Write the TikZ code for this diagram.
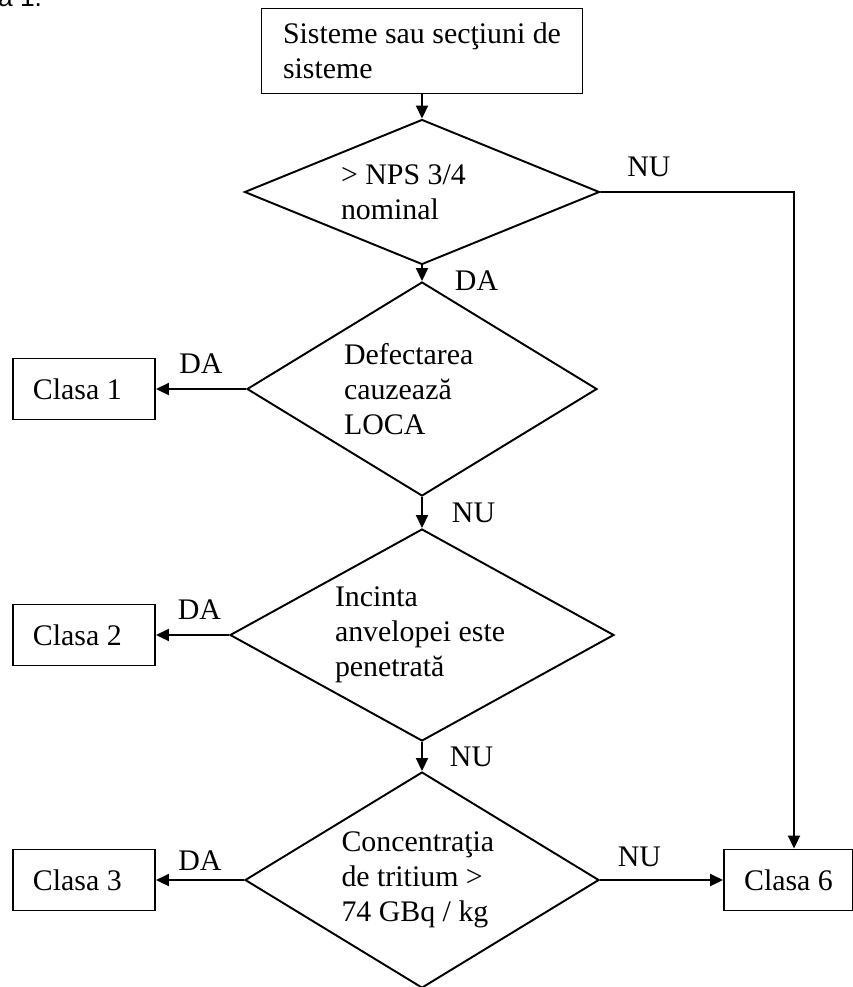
\documentclass[tikz,border=0pt]{standalone}
\usepackage{fontspec}
\setmainfont{Liberation Serif}
\newfontfamily\figfont{Liberation Sans}
\usetikzlibrary{arrows.meta, positioning, shapes.geometric}
\newcommand{\fsize}{\fontsize{17pt}{20pt}\selectfont}
\tikzset{
        >={Triangle[length=2.6mm, width=2.4mm]}, % filled arrow heads
        block/.style={draw, rectangle, align=flush left, minimum width=64.2mm, minimum height=17mm}, % start box
        decision/.style={draw, diamond, align=flush left, inner sep=0pt, aspect=1.7, text width=#1}, % questions
        clasa/.style={draw, rectangle, align=flush left, text width=20.4mm, inner xsep=4mm, inner ysep=0pt, minimum height=12.2mm}, % result boxes
        lbl/.style={inner sep=0pt}, % DA / NU
    }

\begin{document}
\begin{tikzpicture}[x=0.2mm, y=-0.2mm, line width=1.1pt, every node/.style={font=\fsize}]
    \useasboundingbox (0,0) rectangle (853,987);
    \node[anchor=base east, inner sep=0pt, font=\figfont\fontsize{15pt}{18pt}\selectfont] (fig) at (43,7) {a 1.};
    \node[block] (start) at (422,51) {Sisteme sau secţiuni de\\sisteme};
    \node[decision=32.4mm, aspect=2.2, minimum width=71mm, minimum height=29mm, below of=start, node distance=28.2mm] (nps) {> NPS 3/4\\nominal};
    \node[decision=31.2mm, minimum width=70mm, minimum height=42.8mm, below of=nps, node distance=39.4mm] (loca) {Defectarea\\cauzează\\LOCA};
    \node[decision=34.8mm, minimum width=76.8mm, minimum height=42.4mm, below of=loca, node distance=49.2mm] (incinta) {Incinta\\anvelopei este\\penetrată};
    \node[decision=32.2mm, minimum width=70.8mm, minimum height=43.2mm, below of=incinta, node distance=49mm] (tritium) {Concentraţia\\de tritium >\\74 GBq / kg};
    \node[clasa, left of=loca, node distance=67.6mm] (c1) {Clasa 1};
    \node[clasa, left of=incinta, node distance=67.6mm] (c2) {Clasa 2};
    \node[clasa, left of=tritium, node distance=67.6mm] (c3) {Clasa 3};
    \node[draw, minimum width=25.8mm, minimum height=12.2mm, inner sep=0pt, right of=tritium, node distance=73.3mm] (c6) {Clasa 6};
    \coordinate (corner) at (794,192);
    \draw[->]
      (start) edge (nps)
      (nps) edge node[lbl, right=6.4mm, yshift=-1.4mm] (da1) {DA} (loca)
      (loca) edge node[lbl, above=2.8mm] (da2) {DA} (c1)
      (loca) edge node[lbl, right=5.8mm] (nu2) {NU} (incinta)
      (incinta) edge node[lbl, above=2.8mm, xshift=1.4mm] (da3) {DA} (c2)
      (incinta) edge node[lbl, right=5.4mm] (nu3) {NU} (tritium)
      (tritium) edge node[lbl, above=1.6mm] (da4) {DA} (c3)
      (tritium) edge node[lbl, pos=0.32, above=2.4mm] (nu4) {NU} (c6);
    \draw[->] (nps.east) -- node[lbl, pos=0.25, above=2.8mm] (nu1) {NU} (corner) -- (corner |- c6.north);
\end{tikzpicture}
\end{document}
